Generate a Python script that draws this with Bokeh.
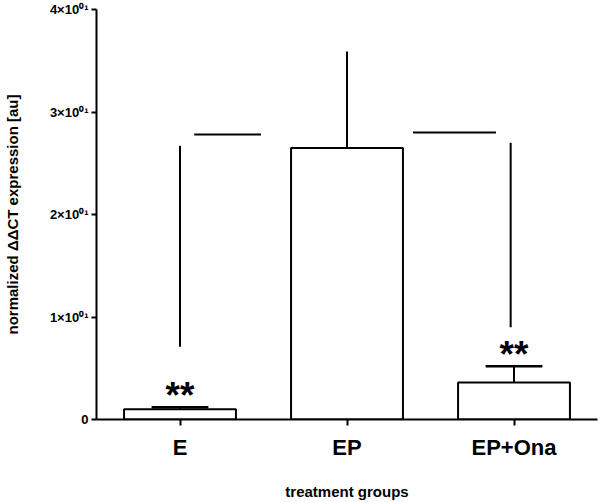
from bokeh.plotting import figure
from bokeh.models import Range1d, FixedTicker, CustomJSTickFormatter, ColumnDataSource
from bokeh.core.properties import value
from bokeh.embed import file_html
from bokeh.resources import INLINE

# ---- data ----
groups = ["E", "EP", "EP+Ona"]
xpos = [0, 1, 2]
means = [1.0, 26.5, 3.6]
sem = [0.2, 9.4, 1.6]
show_cap = [True, False, True]
y_ticks = [0, 10, 20, 30, 40]

# significance brackets (data coords)
sig_vx = [0.0, 1.98]
sig_vy0 = [7.1, 9.0]
sig_vy1 = [26.7, 27.0]
sig_hx0 = [0.085, 1.395]
sig_hx1 = [0.485, 1.892]
sig_hy = [27.8, 28.0]
star_x = [0, 2]
star_y = [2.3, 6.3]
star_text = ["**", "**"]

FONT = "Liberation Sans"

p = figure(width=600, height=502, output_backend="svg", toolbar_location=None,
           x_range=Range1d(-0.5, 2.5), y_range=Range1d(0, 40),
           min_border_left=95, min_border_right=3, min_border_top=9, min_border_bottom=80)
p.outline_line_color = None
p.grid.visible = False
p.background_fill_color = "white"

src = ColumnDataSource(dict(x=xpos, top=means))
p.vbar(x="x", top="top", width=0.67, bottom=0, source=src,
       fill_color="white", line_color="black", line_width=2)

# error bars
up = [m + s for m, s in zip(means, sem)]
p.segment(x0=xpos, y0=means, x1=xpos, y1=up, line_color="black", line_width=2)
cx = [x for x, c in zip(xpos, show_cap) if c]
cy = [u for u, c in zip(up, show_cap) if c]
p.segment(x0=[x - 0.17 for x in cx], y0=cy, x1=[x + 0.17 for x in cx], y1=cy,
          line_color="black", line_width=2.5)

# significance lines
p.segment(x0=sig_vx, y0=sig_vy0, x1=sig_vx, y1=sig_vy1, line_color="black", line_width=2)
p.segment(x0=sig_hx0, y0=sig_hy, x1=sig_hx1, y1=sig_hy, line_color="black", line_width=2)

p.text(x=star_x, y=star_y, text=star_text, text_align="center", text_baseline="middle",
       text_font=value(FONT), text_font_size="37px", text_font_style="bold",
       text_color="black")

# axes
p.xaxis.ticker = FixedTicker(ticks=xpos)
p.xaxis.major_label_overrides = {x: g for x, g in zip(xpos, groups)}
p.xaxis.major_label_text_font = FONT
p.xaxis.major_label_text_font_style = "bold"
p.xaxis.major_label_text_font_size = "22px"
p.xaxis.major_label_text_color = "black"
p.xaxis.major_label_standoff = 9
p.xaxis.axis_label = "treatment groups"
p.xaxis.axis_label_text_font = FONT
p.xaxis.axis_label_text_font_style = "bold"
p.xaxis.axis_label_text_font_size = "15px"
p.xaxis.axis_label_text_color = "black"
p.xaxis.axis_label_standoff = 20
p.xaxis.minor_tick_line_color = None
p.xaxis.major_tick_out = 6
p.xaxis.major_tick_in = 0

p.yaxis.ticker = FixedTicker(ticks=y_ticks)
p.yaxis.formatter = CustomJSTickFormatter(code="""
    if (tick == 0) { return "0"; }
    return (tick / 10).toFixed(0) + "\u00d710\u2070\u00b9";
""")
p.yaxis.major_label_text_font = FONT
p.yaxis.major_label_text_font_style = "bold"
p.yaxis.major_label_text_font_size = "13px"
p.yaxis.major_label_text_color = "black"
p.yaxis.major_label_standoff = 3
p.yaxis.axis_label = "normalized \u0394\u0394CT expression [au]"
p.yaxis.axis_label_text_font = FONT
p.yaxis.axis_label_text_font_style = "bold"
p.yaxis.axis_label_text_font_size = "15px"
p.yaxis.axis_label_text_color = "black"
p.yaxis.axis_label_standoff = 26
p.yaxis.minor_tick_line_color = None
p.yaxis.major_tick_out = 5
p.yaxis.major_tick_in = 0

for ax in (p.xaxis, p.yaxis):
    ax.axis_line_width = 2
    ax.major_tick_line_width = 2
    ax.axis_line_color = "black"
    ax.major_tick_line_color = "black"

open("out.html", "w").write(file_html(p, INLINE))
